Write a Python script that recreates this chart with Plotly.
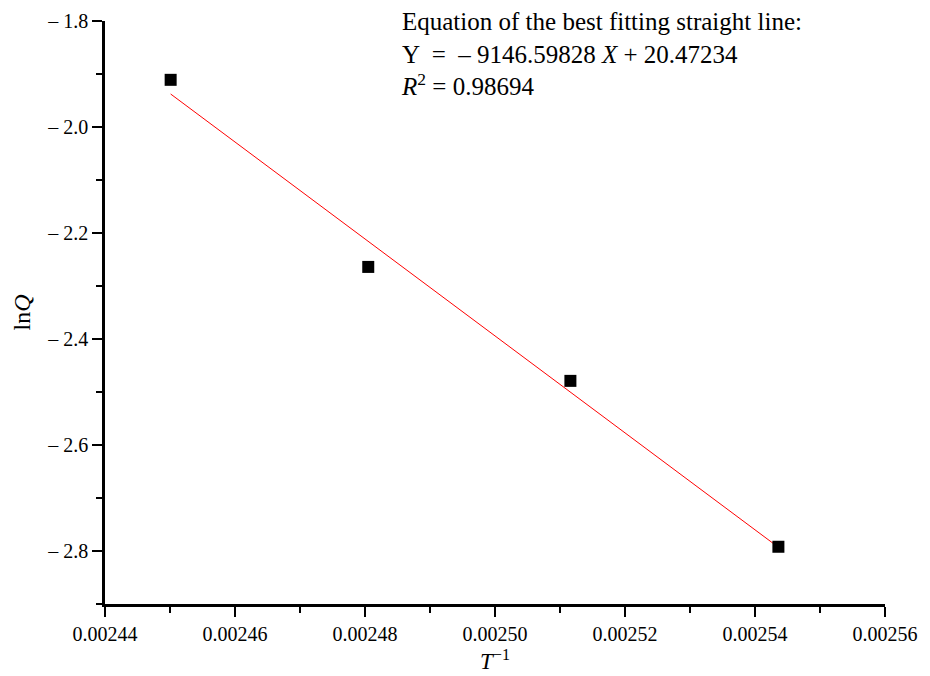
import plotly.graph_objects as go

inv_T = [0.0024501, 0.0024805, 0.0025116, 0.0025436]
lnQ = [-1.911, -2.264, -2.479, -2.792]
slope = -9146.59828
intercept = 20.47234
r2 = 0.98694

y_ticks = [-1.8, -2.0, -2.2, -2.4, -2.6, -2.8]
y_ticktext = ["\u2013 1.8", "\u2013 2.0", "\u2013 2.2", "\u2013 2.4", "\u2013 2.6", "\u2013 2.8"]
x_ticks = [0.00244, 0.00246, 0.00248, 0.00250, 0.00252, 0.00254, 0.00256]
x_ticktext = ["0.00244", "0.00246", "0.00248", "0.00250", "0.00252", "0.00254", "0.00256"]

fit_x = [inv_T[0], inv_T[-1]]
fit_y = [slope * v + intercept for v in fit_x]

font = "Liberation Serif, Times New Roman, serif"

L, R, T, B = 105, 45, 21, 72
PW, PH = 930 - L - R, 676 - T - B

fig = go.Figure()
fig.add_trace(go.Scatter(x=fit_x, y=fit_y, mode="lines",
                         line=dict(color="red", width=1), showlegend=False))
fig.add_trace(go.Scatter(x=inv_T, y=lnQ, mode="markers",
                         marker=dict(symbol="square", size=12, color="black"),
                         showlegend=False))

fig.update_layout(
    width=930, height=676,
    margin=dict(l=L, r=R, t=T, b=B),
    paper_bgcolor="white", plot_bgcolor="white",
    font=dict(family=font, size=20, color="black"),
    xaxis=dict(range=[0.00244, 0.00256], showline=True, linecolor="black", linewidth=2.5,
               ticks="outside", ticklen=10, tickwidth=2, tickcolor="black",
               tickmode="array", tickvals=x_ticks, ticktext=x_ticktext,
               tickfont=dict(size=20), automargin=False,
               minor=dict(ticks="outside", ticklen=6, tickwidth=2, tickcolor="black",
                          tickmode="linear", tick0=0.00245, dtick=0.00002),
               showgrid=False, zeroline=False,
               title=dict(text="<i>T</i><sup>\u22121</sup>", font=dict(size=23), standoff=10)),
    yaxis=dict(range=[-2.9, -1.8], showline=True, linecolor="black", linewidth=2.5,
               ticks="outside", ticklen=10, tickwidth=2, tickcolor="black",
               tickmode="array", tickvals=y_ticks, ticktext=y_ticktext,
               tickfont=dict(size=20), automargin=False,
               minor=dict(ticks="outside", ticklen=6, tickwidth=2, tickcolor="black",
                          tickmode="linear", tick0=-1.9, dtick=0.2),
               showgrid=False, zeroline=False,
               title=dict(text="ln<i>Q</i>", font=dict(size=24), standoff=10)),
    annotations=[
        dict(xref="paper", yref="paper", x=(399 - L) / PW, y=(PH + T - 6) / PH,
             xanchor="left", yanchor="top", align="left", showarrow=False,
             font=dict(size=25, family=font),
             text=("Equation of the best fitting straight line:<br>"
                   "Y  =  \u2013 %.5f <i>X</i> + %.5f<br>"
                   "<i>R</i><sup>2</sup> = %.5f") % (-slope, intercept, r2)),
    ],
)

fig.write_html("out.html")
